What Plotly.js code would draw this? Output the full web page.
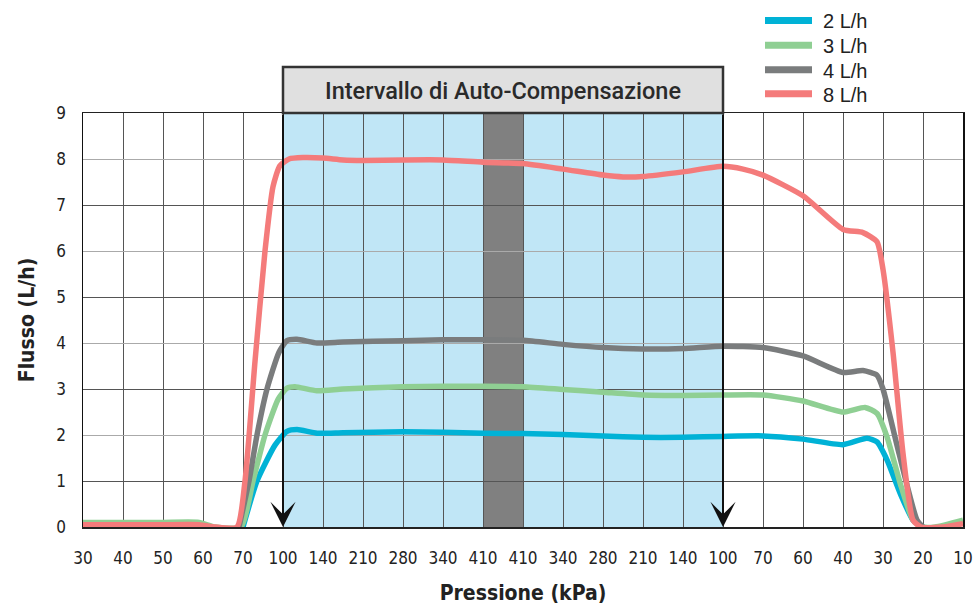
<!DOCTYPE html>
<html><head><meta charset="utf-8">
<script src="https://cdn.plot.ly/plotly-3.0.1.min.js"></script>
<style>html,body{margin:0;padding:0;background:#fff}#chart{width:976px;height:605px}</style>
</head><body><div id="chart"></div>
<script>
// Category tick labels of the pressure axis (kPa), rising then falling
const pressureLabels = ['30','40','50','60','70','100','140','210','280','340','410',
                        '410','340','280','210','140','100','70','60','40','30','20','10'];
const flowTicks = [0,1,2,3,4,5,6,7,8,9];

const seriesNames  = ['2 L/h','3 L/h','4 L/h','8 L/h'];
const seriesColors = ['#00b2d6','#8fcf93','#7a7c7d','#f47b7b'];

// x = position along the category axis (0 = first "30", 22 = last "10")
const pos2 = [4.0,4.35,4.8,5.1,5.35,5.85,6.5,8,9,10,11,12,13,14,15,16,17,18,19,19.6,19.85,20.1,20.43,20.75,21.0];
const flow2 = [0,1.0,1.78,2.08,2.12,2.04,2.05,2.07,2.06,2.04,2.03,2.01,1.98,1.95,1.95,1.97,1.98,1.91,1.79,1.93,1.85,1.46,0.73,0.15,0];

const pos3 = [0,1,2,2.9,3.3,3.95,4.25,4.55,4.88,5.1,5.3,5.85,6.5,8,9,10,11,12,13,14,15,16,17,18,19,19.55,19.85,20.1,20.43,20.75,21.0,21.3,22];
const flow3 = [0.1,0.1,0.1,0.1,0,0,1.0,2.0,2.78,3.02,3.05,2.96,3.0,3.05,3.06,3.06,3.05,2.99,2.93,2.87,2.86,2.87,2.87,2.74,2.5,2.6,2.47,1.96,0.95,0.15,0,0,0.15];

const pos4 = [3.9,4.15,4.35,4.6,4.9,5.1,5.35,5.85,6.5,8,9,10,11,12,13,14,15,16,17,18,19,19.5,19.85,20.0,20.4,20.85,21.0];
const flow4 = [0,1.0,2.0,3.0,3.8,4.05,4.08,4.0,4.02,4.05,4.07,4.07,4.06,3.97,3.9,3.87,3.88,3.93,3.9,3.72,3.36,3.4,3.3,3.0,1.6,0.15,0];

const pos8 = [0,1,2,2.9,3.3,3.85,4.05,4.3,4.55,4.75,4.92,5.15,5.5,6,6.5,7,8,9,10,11,12,13,13.5,14,15,16,16.5,17,18,19,19.5,19.85,20.0,20.25,20.5,20.75,20.95,21.5,22];
const flow8 = [0.05,0.05,0.05,0.05,0,0,1.0,3.6,6.0,7.4,7.85,8.0,8.03,8.02,7.98,7.97,7.98,7.98,7.93,7.9,7.78,7.65,7.61,7.62,7.72,7.84,7.78,7.65,7.2,6.47,6.4,6.2,5.6,3.8,1.6,0.15,0,0,0.07];

const bandTitle = 'Intervallo di Auto-Compensazione';
const bandRange = [5, 16];      // 100 kPa ... 100 kPa
const peakRange = [10, 11];     // 410 kPa ... 410 kPa

const posAll = [pos2,pos3,pos4,pos8];
const flowAll = [flow2,flow3,flow4,flow8];

const FONT = '"DejaVu Sans Condensed", "DejaVu Sans", Roboto, sans-serif';
const LEGFONT = '"Liberation Sans", Arial, sans-serif';

const traces = seriesNames.map((n,k)=>({
  type:'scatter', mode:'lines', name:n, x:posAll[k], y:flowAll[k], showlegend:false,
  line:{color:seriesColors[k], width:5.5, shape:'spline', smoothing:0.55},
  hoverinfo:'x+y+name'
}));
traces.push({type:'scatter', mode:'lines', x:[], y:[], yaxis:'y2', showlegend:false, hoverinfo:'skip'});

const tickIdx = pressureLabels.map((_,i)=>i);
// paper-coordinate helpers for layout placement (plot area: 83..963 x 113..527 px)
const px = v => (v-83)/880;
const py = v => (527-v)/414;
const topPaper = py(67);
const legendRows = [20.5, 45.3, 69.7, 93.7];

const legendShapes = seriesNames.map((n,k)=>({type:'line', xref:'paper', yref:'paper',
  x0:px(765), x1:px(812), y0:py(legendRows[k]), y1:py(legendRows[k]),
  line:{color:seriesColors[k], width:7}, layer:'above'}));
const legendTexts = seriesNames.map((n,k)=>({xref:'paper', yref:'paper',
  x:px(821), y:py(legendRows[k]+1), text:n, showarrow:false, xanchor:'left', yanchor:'middle',
  font:{family:LEGFONT, size:20, color:'#222'}}));

const layout = {
  width:976, height:605,
  margin:{l:83, r:13, t:113, b:78},
  paper_bgcolor:'#ffffff', plot_bgcolor:'#ffffff',
  showlegend:false,
  xaxis:{range:[0,22], tickmode:'array', tickvals:tickIdx, ticktext:pressureLabels,
         showgrid:true, gridcolor:'#555', gridwidth:1, zeroline:false,
         showline:true, linecolor:'#222', linewidth:1.5, mirror:true,
         ticks:'', ticklabelstandoff:15,
         tickfont:{family:FONT, size:17, color:'#222'},
         title:{text:'Pressione (kPa)', font:{family:FONT, size:21, color:'#222', weight:'bold'}, standoff:18}},
  yaxis:{range:[0,9], tickmode:'array', tickvals:flowTicks,
         showgrid:true, gridcolor:'#aaaaaa', gridwidth:1, zeroline:false,
         showline:true, linecolor:'#111', linewidth:1.5, mirror:true,
         ticks:'', ticklabelstandoff:12,
         tickfont:{family:FONT, size:17, color:'#222'},
         title:{text:'Flusso (L/h)', font:{family:FONT, size:21, color:'#222', weight:'bold'}, standoff:16}},
  yaxis2:{overlaying:'y', range:[0,9], tickmode:'array', tickvals:[1,3,5,7,9],
          showgrid:true, gridcolor:'#555', gridwidth:1, zeroline:false,
          showticklabels:false, showline:false, ticks:''},
  shapes:[
    {type:'rect', xref:'x', yref:'y', x0:bandRange[0], x1:bandRange[1], y0:0, y1:9,
     fillcolor:'#c0e6f6', line:{width:0}, layer:'below'},
    {type:'rect', xref:'x', yref:'y', x0:peakRange[0], x1:peakRange[1], y0:0, y1:9,
     fillcolor:'#808080', line:{width:0}, layer:'below'},
    {type:'rect', xref:'x', yref:'paper', x0:bandRange[0], x1:bandRange[1], y0:1, y1:topPaper,
     fillcolor:'#e0e0e0', line:{color:'#333', width:2.5}, layer:'above'},
    ...legendShapes
  ],
  annotations:[
    {xref:'x', yref:'paper', x:(bandRange[0]+bandRange[1])/2, y:py(91),
     text:bandTitle, showarrow:false, xanchor:'center', yanchor:'middle',
     font:{family:'Roboto, "DejaVu Sans", sans-serif', size:23.5, color:'#2a2a2a', weight:500}},
    ...bandRange.map(b=>({xref:'x', yref:'y', x:b, y:0, axref:'x', ayref:'y', ax:b, ay:9,
      text:'', showarrow:true, arrowhead:3, arrowsize:2.1, arrowwidth:2, arrowcolor:'#111', standoff:0})),
    ...legendTexts
  ]
};

Plotly.newPlot('chart', traces, layout, {displayModeBar:false, staticPlot:true});
</script></body></html>
